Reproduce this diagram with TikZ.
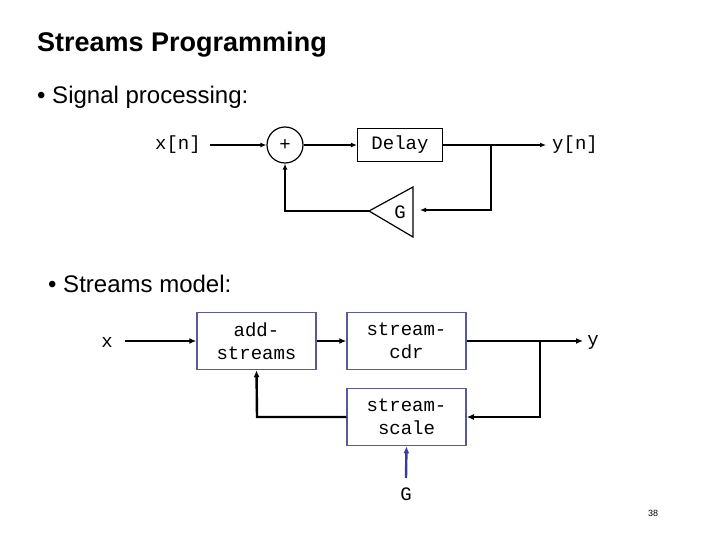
\documentclass[tikz,border=0pt]{standalone}
\usepackage{fontspec}
\setmainfont{Liberation Sans}
\setmonofont{Liberation Mono}
\usetikzlibrary{arrows.meta}
\definecolor{boxc}{HTML}{5A5A9A}
\definecolor{garr}{HTML}{3C3C96}
\begin{document}
\begin{tikzpicture}[x=1pt,y=-1pt,
  lbl/.style={font=\ttfamily\fontsize{19}{21}\selectfont,inner sep=0pt},
  thin/.style={line width=1.2pt,-{Latex[length=6pt,width=5pt]}},
  thk/.style={line width=2.4pt,-{Latex[length=7pt,width=6pt]}},
  sbox/.style={draw=boxc,line width=1.5pt,minimum width=119pt,minimum height=57pt,align=center,font=\ttfamily\fontsize{19}{23}\selectfont}]
\useasboundingbox (0,0) rectangle (720,540);
\node[anchor=west,inner sep=0pt,font=\bfseries\fontsize{27}{30}\selectfont] (title) at (37,45) {Streams Programming};
\node[anchor=west,inner sep=0pt,font=\fontsize{24}{26}\selectfont] (b1) at (37,97) {\textbullet\ Signal processing:};
\node[anchor=west,inner sep=0pt,font=\fontsize{24}{26}\selectfont] (b2) at (48,284) {\textbullet\ Streams model:};
\node[font=\fontsize{9}{10}\selectfont] (pg) at (653,513) {38};
% top
\node[lbl] (xn) at (178,145) {x[n]};
\node[draw,circle,line width=1.2pt,minimum size=36pt,lbl] (sum) at (285,145) {+};
\node[draw,line width=1.2pt,minimum width=85pt,minimum height=33pt,lbl] (delay) at (400,145) {Delay};
\node[lbl] (yn) at (575,145) {y[n]};
\coordinate (xs) at (210,145);
\coordinate (ye) at (546,145);
\coordinate (j1) at (491,145);
\coordinate (g1) at (491,210);
\coordinate (gin) at (420,210);
\coordinate (tt) at (413,187);
\coordinate (tb) at (413,237);
\coordinate (tip) at (369,211);
\draw[line width=1.2pt] (tt) -- (tb) -- (tip) -- cycle;
\node[lbl] (G1) at (400,212) {G};
\coordinate (f1) at (285,211);
\draw[thin] (xs) -- (sum.west);
\draw[thin] (sum.east) -- (delay.west);
\draw[thin] (delay.east) -- (ye);
\draw[thin] (j1) -- (g1) -- (gin);
\draw[thin] (tip) -- (f1) -- (sum.south);
% bottom
\node[lbl] (x) at (107,342) {x};
\node[sbox] (add) at (256.5,341) {add-\\streams};
\node[sbox] (cdr) at (406.5,341) {stream-\\cdr};
\node[sbox] (scale) at (406.5,417) {stream-\\scale};
\node[lbl] (y) at (593,342) {y};
\node[lbl] (G2) at (406,494) {G};
\coordinate (j2) at (540,341);
\coordinate (j3) at (540,417);
\coordinate (f2) at (257,417);
\coordinate (gs) at (406,478);
\coordinate (xb) at (125,341);
\coordinate (yb) at (583,341);
\draw[thk] (xb) -- (add.west);
\draw[thk] (add.east) -- (cdr.west);
\draw[thk] (cdr.east) -- (yb);
\draw[thk] (j2) -- (j3) -- (scale.east);
\draw[thk] (scale.west) -- (f2) -- (add.south);
\draw[thk,garr] (gs) -- (scale.south);
\end{tikzpicture}
\end{document}
